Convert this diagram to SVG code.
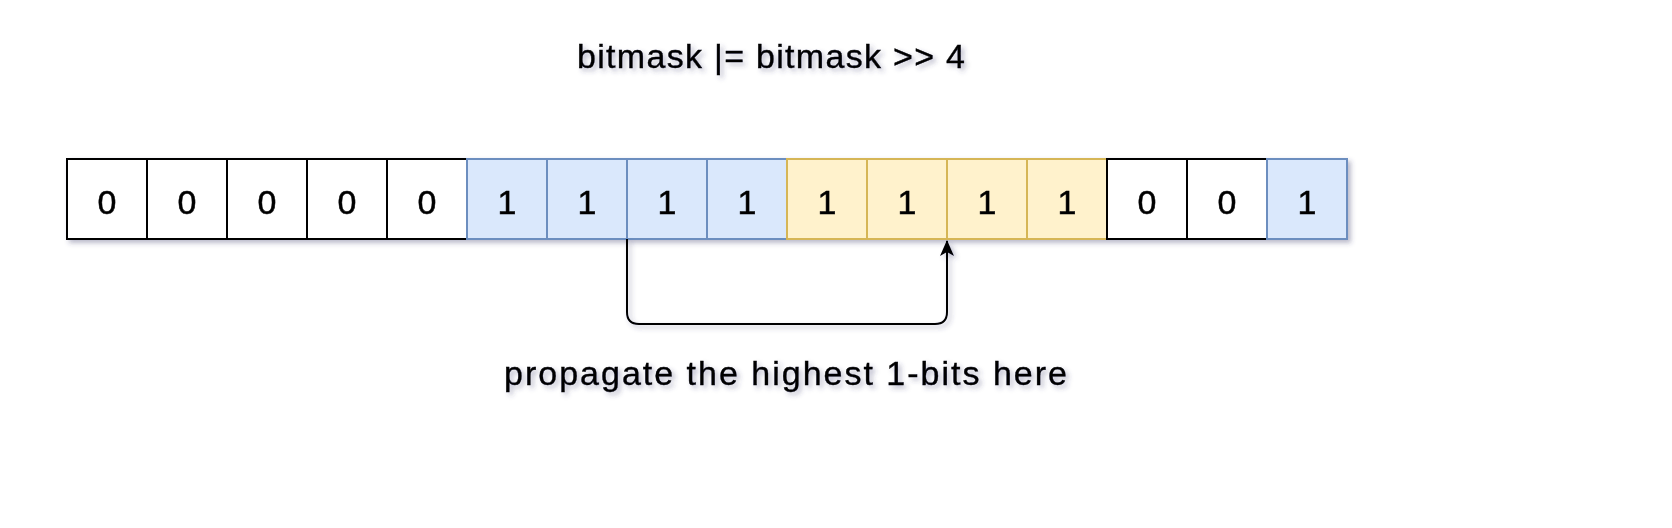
<svg xmlns="http://www.w3.org/2000/svg" width="1672" height="528" viewBox="0 0 1672 528">
  <defs>
    <filter id="sh" x="-20%" y="-20%" width="140%" height="160%">
      <feDropShadow dx="3" dy="3" stdDeviation="2.5" flood-color="#3a3a6a" flood-opacity="0.35"/>
    </filter>
    <marker id="arrow" viewBox="0 0 16 14" refX="15" refY="7" markerWidth="16" markerHeight="14" markerUnits="userSpaceOnUse" orient="auto">
      <path d="M0,0 L16,7 L0,14 L4,7 Z" fill="#000"/>
    </marker>
  </defs>
  <style>
    text { font-family: "Liberation Sans", Arial, sans-serif; fill: #000; }
    .lbl { font-size: 34px; stroke: #000; stroke-width: 0.4px; }
    .digit { font-size: 34px; text-anchor: middle; stroke: #000; stroke-width: 0.5px; }
    .w rect { fill: #ffffff; stroke: #000000; stroke-width: 2; }
    .b rect { fill: #dae8fc; stroke: #6c8ebf; stroke-width: 2; }
    .y rect { fill: #fff2cc; stroke: #d6b656; stroke-width: 2; }
    .edge { fill: none; stroke: #000; stroke-width: 2; }
  </style>
  <rect width="1672" height="528" fill="#ffffff"/>

  <g id="title" filter="url(#sh)">
    <text class="lbl" x="577" y="68" textLength="388" lengthAdjust="spacing">bitmask |= bitmask &gt;&gt; 4</text>
  </g>

  <g id="cells" filter="url(#sh)">
    <g id="cell0" class="w"><rect x="67" y="159" width="80" height="80"/><text class="digit" x="107" y="214">0</text></g>
    <g id="cell1" class="w"><rect x="147" y="159" width="80" height="80"/><text class="digit" x="187" y="214">0</text></g>
    <g id="cell2" class="w"><rect x="227" y="159" width="80" height="80"/><text class="digit" x="267" y="214">0</text></g>
    <g id="cell3" class="w"><rect x="307" y="159" width="80" height="80"/><text class="digit" x="347" y="214">0</text></g>
    <g id="cell4" class="w"><rect x="387" y="159" width="80" height="80"/><text class="digit" x="427" y="214">0</text></g>
    <g id="cell5" class="b"><rect x="467" y="159" width="80" height="80"/><text class="digit" x="507" y="214">1</text></g>
    <g id="cell6" class="b"><rect x="547" y="159" width="80" height="80"/><text class="digit" x="587" y="214">1</text></g>
    <g id="cell7" class="b"><rect x="627" y="159" width="80" height="80"/><text class="digit" x="667" y="214">1</text></g>
    <g id="cell8" class="b"><rect x="707" y="159" width="80" height="80"/><text class="digit" x="747" y="214">1</text></g>
    <g id="cell9" class="y"><rect x="787" y="159" width="80" height="80"/><text class="digit" x="827" y="214">1</text></g>
    <g id="cell10" class="y"><rect x="867" y="159" width="80" height="80"/><text class="digit" x="907" y="214">1</text></g>
    <g id="cell11" class="y"><rect x="947" y="159" width="80" height="80"/><text class="digit" x="987" y="214">1</text></g>
    <g id="cell12" class="y"><rect x="1027" y="159" width="80" height="80"/><text class="digit" x="1067" y="214">1</text></g>
    <g id="cell13" class="w"><rect x="1107" y="159" width="80" height="80"/><text class="digit" x="1147" y="214">0</text></g>
    <g id="cell14" class="w"><rect x="1187" y="159" width="80" height="80"/><text class="digit" x="1227" y="214">0</text></g>
    <g id="cell15" class="b"><rect x="1267" y="159" width="80" height="80"/><text class="digit" x="1307" y="214">1</text></g>
  </g>

  <g id="connectors" filter="url(#sh)">
    <path class="edge" d="M627,239 L627,312 Q627,324 639,324 L935,324 Q947,324 947,312 L947,241" marker-end="url(#arrow)"/>
  </g>

  <g id="caption" filter="url(#sh)">
    <text class="lbl" x="504" y="385" textLength="563" lengthAdjust="spacing">propagate the highest 1-bits here</text>
  </g>
</svg>
